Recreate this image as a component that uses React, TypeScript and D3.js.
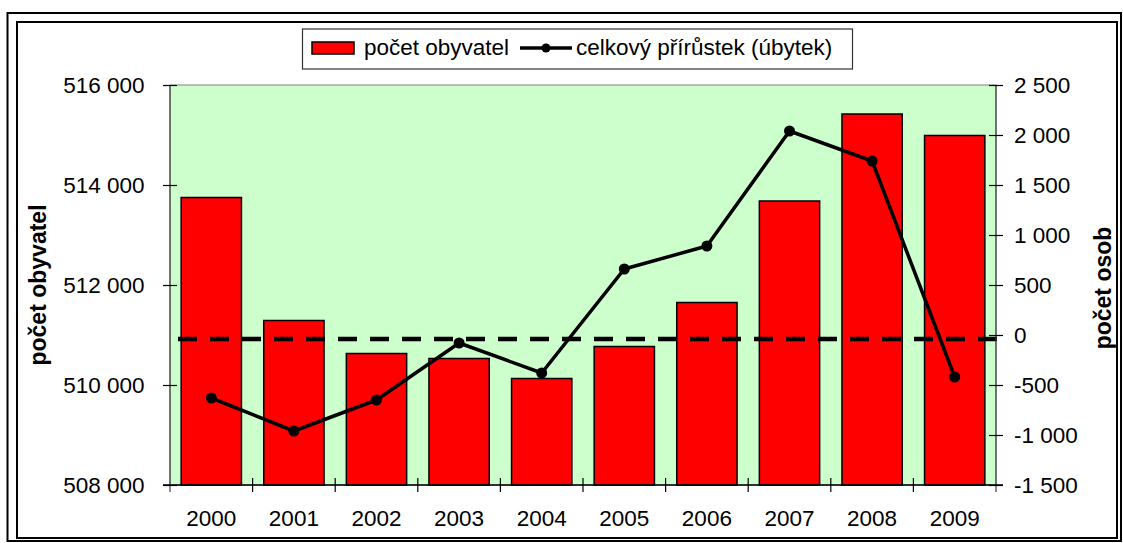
import React, { useEffect, useRef } from 'react';
import * as d3 from 'd3';

// data
const years = ['2000', '2001', '2002', '2003', '2004', '2005', '2006', '2007', '2008', '2009'];
const population = [513750, 511290, 510630, 510530, 510130, 510770, 511650, 513680, 515420, 514990];
const totalChange = [-630, -960, -650, -80, -380, 660, 890, 2040, 1740, -420];
const referenceChange = -40; // dashed line, on the right axis
const populationTicks = [508000, 510000, 512000, 514000, 516000];
const changeTicks = [-1500, -1000, -500, 0, 500, 1000, 1500, 2000, 2500];

const barLabel = 'počet obyvatel';
const lineLabel = 'celkový přírůstek (úbytek)';
const leftTitle = 'počet obyvatel';
const rightTitle = 'počet osob';

const W = 1123;
const H = 543;
const plot = { left: 170, right: 996, top: 85, bottom: 485 };
const FONT = '"Liberation Sans", Arial, Helvetica, sans-serif';

const czech = d3.formatLocale({ decimal: ',', thousands: ' ', grouping: [3], currency: ['', ' Kč'], minus: '-' });
const fmt = czech.format(',d');

export default function App() {
    const svgRef = useRef<SVGSVGElement | null>(null);

    useEffect(() => {
        const svg = d3.select(svgRef.current);
        svg.selectAll('*').remove();

        const x = d3.scaleBand<string>()
            .domain(years)
            .range([plot.left, plot.right])
            .paddingInner(0.27)
            .paddingOuter(0.135);

        const yPop = d3.scaleLinear().domain([508000, 516000]).range([plot.bottom, plot.top]);
        const yChange = d3.scaleLinear().domain([-1500, 2500]).range([plot.bottom, plot.top]);

        // frames
        svg.append('rect').attr('x', 7.5).attr('y', 13).attr('width', 1121 - 7.5).attr('height', 541 - 13)
            .attr('fill', 'white').attr('stroke', 'black').attr('stroke-width', 2);
        svg.append('rect').attr('x', 17).attr('y', 22).attr('width', 1117 - 17).attr('height', 538 - 22)
            .attr('fill', 'white').attr('stroke', 'black').attr('stroke-width', 2);

        // plot area
        svg.append('rect')
            .attr('x', plot.left).attr('y', plot.top)
            .attr('width', plot.right - plot.left).attr('height', plot.bottom - plot.top)
            .attr('fill', '#CCFFCC').attr('stroke', '#808080').attr('stroke-width', 1);

        // bars
        svg.selectAll('.bar')
            .data(years)
            .enter()
            .append('rect')
            .attr('class', 'bar')
            .attr('x', d => x(d) ?? 0)
            .attr('y', (d, i) => yPop(population[i]))
            .attr('width', x.bandwidth())
            .attr('height', (d, i) => plot.bottom - yPop(population[i]))
            .attr('fill', '#FF0000')
            .attr('stroke', 'black')
            .attr('stroke-width', 1.5);

        // dashed reference line (reaches to the right tick ends)
        svg.append('line')
            .attr('x1', plot.left + 8).attr('x2', plot.right + 7)
            .attr('y1', yChange(referenceChange)).attr('y2', yChange(referenceChange))
            .attr('stroke', 'black').attr('stroke-width', 4.5)
            .attr('stroke-dasharray', '19,13');

        // axes
        const leftAxis = svg.append('g')
            .attr('transform', `translate(${plot.left},0)`)
            .call(d3.axisLeft(yPop).tickValues(populationTicks).tickFormat(d => fmt(d as number)).tickSize(7).tickPadding(18.5).tickSizeOuter(0));
        leftAxis.selectAll('.tick line').attr('x2', -7).attr('x1', 7);

        const rightAxis = svg.append('g')
            .attr('transform', `translate(${plot.right},0)`)
            .call(d3.axisRight(yChange).tickValues(changeTicks).tickFormat(d => fmt(d as number)).tickSize(7).tickPadding(11).tickSizeOuter(0));
        rightAxis.selectAll('.tick line').attr('x1', -7).attr('x2', 7);

        [leftAxis, rightAxis].forEach(g => {
            g.select('.domain').attr('stroke', '#404040').attr('stroke-width', 1.2)
                .attr('d', `M0,${plot.top}V${plot.bottom + 7}`);
            g.selectAll('.tick line').attr('stroke', 'black').attr('stroke-width', 1.2);
            g.selectAll('.tick text').attr('font-family', FONT).attr('font-size', 22.5).attr('fill', 'black');
        });

        // category axis
        svg.append('line')
            .attr('x1', plot.left - 7).attr('x2', plot.right + 7)
            .attr('y1', plot.bottom).attr('y2', plot.bottom)
            .attr('stroke', 'black').attr('stroke-width', 1.5);
        const boundaries = d3.range(years.length + 1).map(i => plot.left + i * x.step());
        svg.selectAll('.xtick')
            .data(boundaries.slice(1, -1))
            .enter()
            .append('line')
            .attr('class', 'xtick')
            .attr('x1', d => d).attr('x2', d => d)
            .attr('y1', plot.bottom - 7).attr('y2', plot.bottom + 7)
            .attr('stroke', 'black').attr('stroke-width', 1.2);
        svg.selectAll('.xlabel')
            .data(years)
            .enter()
            .append('text')
            .attr('class', 'xlabel')
            .attr('x', d => (x(d) ?? 0) + x.bandwidth() / 2)
            .attr('y', plot.bottom + 41)
            .attr('text-anchor', 'middle')
            .attr('font-family', FONT).attr('font-size', 22.5)
            .text(d => d);

        // line series
        const line = d3.line<number>()
            .x((d, i) => (x(years[i]) ?? 0) + x.bandwidth() / 2)
            .y(d => yChange(d));
        svg.append('path')
            .datum(totalChange)
            .attr('fill', 'none')
            .attr('stroke', 'black')
            .attr('stroke-width', 3.5)
            .attr('stroke-linejoin', 'round')
            .attr('d', line);
        svg.selectAll('.dot')
            .data(totalChange)
            .enter()
            .append('circle')
            .attr('class', 'dot')
            .attr('cx', (d, i) => (x(years[i]) ?? 0) + x.bandwidth() / 2)
            .attr('cy', d => yChange(d))
            .attr('r', 5.5)
            .attr('fill', 'black');

        // axis titles
        svg.append('text')
            .attr('transform', `translate(46,285) rotate(-90)`)
            .attr('text-anchor', 'middle')
            .attr('font-family', FONT).attr('font-size', 23).attr('font-weight', 'bold')
            .text(leftTitle);
        svg.append('text')
            .attr('transform', `translate(1111,288) rotate(-90)`)
            .attr('text-anchor', 'middle')
            .attr('font-family', FONT).attr('font-size', 23).attr('font-weight', 'bold')
            .text(rightTitle);

        // legend
        const legend = svg.append('g');
        legend.append('rect')
            .attr('x', 302.5).attr('y', 29).attr('width', 550).attr('height', 40)
            .attr('fill', 'white').attr('stroke', '#333').attr('stroke-width', 1.2);
        legend.append('rect')
            .attr('x', 312).attr('y', 42).attr('width', 42).attr('height', 12)
            .attr('fill', '#FF0000').attr('stroke', 'black').attr('stroke-width', 1.5);
        legend.append('text')
            .attr('x', 364).attr('y', 55)
            .attr('font-family', FONT).attr('font-size', 22.5)
            .text(barLabel);
        legend.append('line')
            .attr('x1', 520).attr('x2', 572).attr('y1', 48).attr('y2', 48)
            .attr('stroke', 'black').attr('stroke-width', 3.5);
        legend.append('circle').attr('cx', 546).attr('cy', 48).attr('r', 4.5).attr('fill', 'black');
        legend.append('text')
            .attr('x', 576).attr('y', 55)
            .attr('font-family', FONT).attr('font-size', 22.5)
            .text(lineLabel);
    }, []);

    return (
        <div style={{ position: 'absolute', left: 0, top: 0 }}>
            <svg ref={svgRef} width={W} height={H} style={{ display: 'block' }}></svg>
        </div>
    );
}
